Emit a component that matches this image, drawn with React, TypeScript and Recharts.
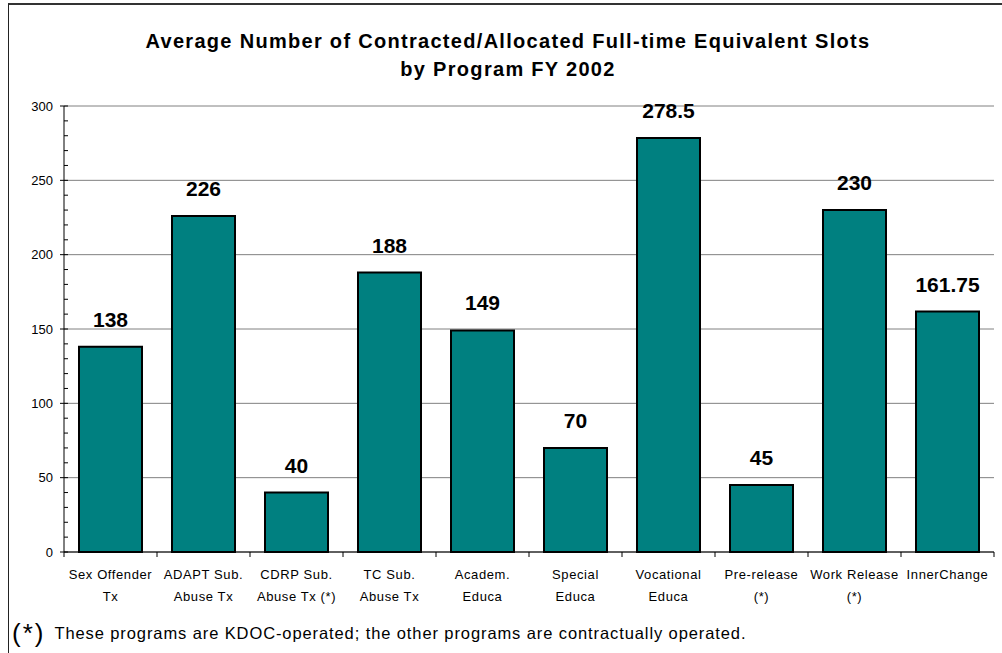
import React from 'react';
import {
  BarChart,
  Bar,
  XAxis,
  YAxis,
  CartesianGrid,
  LabelList,
} from 'recharts';

// programs along the x axis (line breaks split the two-row labels)
const programs = [
  'Sex Offender\nTx',
  'ADAPT Sub.\nAbuse Tx',
  'CDRP Sub.\nAbuse Tx (*)',
  'TC Sub.\nAbuse Tx',
  'Academ.\nEduca',
  'Special\nEduca',
  'Vocational\nEduca',
  'Pre-release\n(*)',
  'Work Release\n(*)',
  'InnerChange',
];

// average contracted / allocated FTE slots, FY 2002
const slots = [138, 226, 40, 188, 149, 70, 278.5, 45, 230, 161.75];

const majorTicks = [0, 50, 100, 150, 200, 250, 300];
const allTicks = [
  0, 10, 20, 30, 40, 50, 60, 70, 80, 90, 100, 110, 120, 130, 140, 150, 160,
  170, 180, 190, 200, 210, 220, 230, 240, 250, 260, 270, 280, 290, 300,
];

const data = programs.map((name, i) => ({ name, slots: slots[i] }));

const FONT = '"Liberation Sans", Arial, sans-serif';
const W = 1002;
const H = 653;
const PLOT_LEFT = 64;
const PLOT_RIGHT = 994;
const BAND = (PLOT_RIGHT - PLOT_LEFT) / programs.length;

// y ticks: labelled major marks cross the axis, minor marks point inside
const YTick = (props: any) => {
  const { y, payload } = props;
  const v = payload.value as number;
  if (v % 50 === 0) {
    return (
      <g>
        <line x1={PLOT_LEFT - 4} x2={PLOT_LEFT + 4} y1={y} y2={y} stroke="#000" />
        <text x={PLOT_LEFT - 11} y={y} dy={4.5} textAnchor="end" fontSize={13} fontFamily={FONT} fill="#000">
          {v}
        </text>
      </g>
    );
  }
  return <line x1={PLOT_LEFT} x2={PLOT_LEFT + 4} y1={y} y2={y} stroke="#000" />;
};

// x ticks: marks sit on the category boundaries, text is split into rows
const XTick = (props: any) => {
  const { x, y, payload, index } = props;
  const rows = String(payload.value).split('\n');
  const axisY = y - 8;
  return (
    <g>
      <line x1={x - BAND / 2} x2={x - BAND / 2} y1={axisY} y2={axisY + 5} stroke="#000" />
      {index === programs.length - 1 && (
        <line x1={x + BAND / 2} x2={x + BAND / 2} y1={axisY} y2={axisY + 5} stroke="#000" />
      )}
      <text textAnchor="middle" fontSize={13} letterSpacing={0.6} fontFamily={FONT} fill="#000">
        {rows.map((r, i) => (
          <tspan key={i} x={x} y={axisY + 27 + i * 22}>
            {r}
          </tspan>
        ))}
      </text>
    </g>
  );
};

export default function App() {
  return (
    <div style={{ position: 'relative', width: W, height: H, overflow: 'hidden', background: '#fff' }}>
      <style>{'body{margin:0}'}</style>
      <div
        style={{
          position: 'absolute',
          left: 8,
          top: 3,
          width: W,
          height: H,
          borderLeft: '1px solid #222',
          borderTop: '2px solid #333',
        }}
      />
      <div
        style={{
          position: 'absolute',
          left: 0,
          width: 1016,
          top: 27,
          textAlign: 'center',
          fontFamily: FONT,
          fontWeight: 'bold',
          fontSize: 20,
          letterSpacing: 1.3,
          lineHeight: '28px',
          color: '#000',
        }}
      >
        Average Number of Contracted/Allocated Full-time Equivalent Slots
        <br />
        by Program FY 2002
      </div>
      <BarChart
        width={W}
        height={H}
        data={data}
        margin={{ top: 106, right: W - PLOT_RIGHT, left: PLOT_LEFT - 40, bottom: 61 }}
        style={{ position: 'absolute', left: 0, top: 0 }}
      >
        <CartesianGrid horizontal vertical={false} horizontalValues={majorTicks} yAxisId="slots" stroke="#808080" />
        <XAxis
          dataKey="name"
          height={40}
          interval={0}
          tickLine={false}
          axisLine={{ stroke: '#000' }}
          tick={<XTick />}
        />
        <YAxis
          yAxisId="slots"
          width={40}
          domain={[0, 300]}
          ticks={allTicks}
          interval={0}
          tickLine={false}
          axisLine={{ stroke: '#000' }}
          tick={<YTick />}
        />
        <YAxis
          yAxisId="frame"
          orientation="right"
          width={0}
          domain={[0, 300]}
          tick={false}
          tickLine={false}
          axisLine={{ stroke: '#808080' }}
        />
        <Bar
          dataKey="slots"
          yAxisId="slots"
          fill="#008080"
          stroke="#000"
          strokeWidth={2}
          barSize={63}
          isAnimationActive={false}
        >
          <LabelList
            dataKey="slots"
            position="top"
            offset={20}
            fill="#000"
            fontSize={21}
            fontWeight="bold"
            fontFamily={FONT}
          />
        </Bar>
      </BarChart>
      <div
        style={{
          position: 'absolute',
          left: 12,
          top: 618,
          fontFamily: FONT,
          color: '#000',
          whiteSpace: 'nowrap',
          display: 'flex',
          alignItems: 'center',
        }}
      >
        <span style={{ fontSize: 26, letterSpacing: 2 }}>(*)</span>
        <span style={{ fontSize: 16.5, marginLeft: 9, letterSpacing: 0.9 }}>
          These programs are KDOC-operated; the other programs are contractually operated.
        </span>
      </div>
    </div>
  );
}
